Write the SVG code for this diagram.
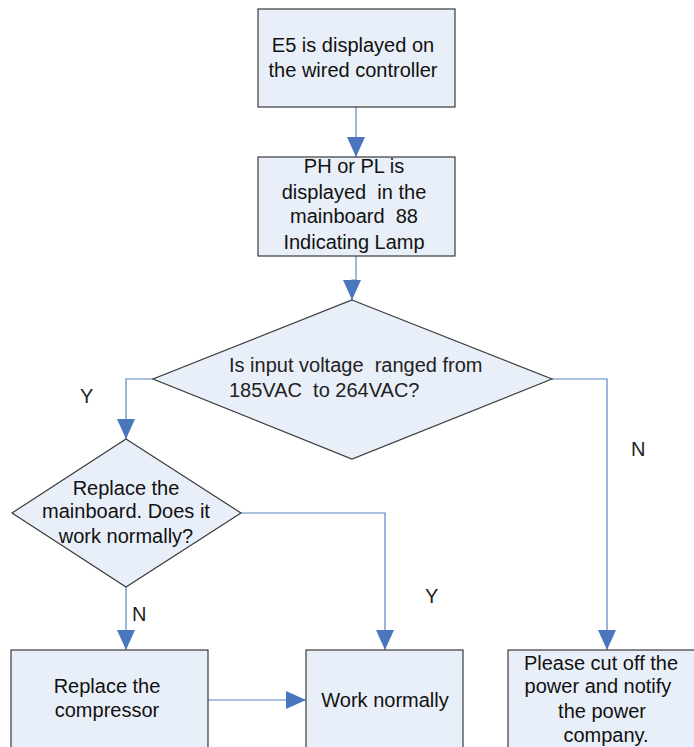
<svg xmlns="http://www.w3.org/2000/svg" width="694" height="747" viewBox="0 0 694 747">
<defs>
<style>
.n{fill:#E9EFF8;stroke:#3a3a3a;stroke-width:1.2}
.t{font-family:"Liberation Sans",Arial,sans-serif;font-size:20px;fill:#111;text-anchor:middle;white-space:pre}
.l{font-family:"Liberation Sans",Arial,sans-serif;font-size:20px;fill:#222;white-space:pre}
.c{fill:none;stroke:#5B86C5;stroke-width:1.2;marker-end:url(#a)}
</style>
<marker id="a" markerUnits="userSpaceOnUse" markerWidth="20" markerHeight="18" refX="20" refY="9" orient="auto">
<path d="M0,0 L20,9 L0,18 z" fill="#4A76BE"/>
</marker>
</defs>
<g id="connectors">
<path class="c" d="M356,107 V157"/>
<path class="c" d="M356,256 V280 H352 V300"/>
<path class="c" d="M153,379 H126 V439"/>
<path class="c" d="M552,379 H607 V650"/>
<path class="c" d="M241,513 H385 V650"/>
<path class="c" d="M126,587 V650"/>
<path class="c" d="M208,700 H306"/>
</g>
<g id="labels">
<text class="l" x="80" y="403">Y</text>
<text class="l" x="631" y="456">N</text>
<text class="l" x="132" y="621">N</text>
<text class="l" x="425" y="603">Y</text>
</g>
<g id="n1">
<rect class="n" x="258" y="9" width="197" height="98"/>
<text class="t" x="353" y="52">E5 is displayed on</text>
<text class="t" x="353" y="77">the wired controller</text>
</g>
<g id="n2">
<rect class="n" x="258" y="157" width="197" height="99"/>
<text class="t" x="354" y="173">PH or PL is</text>
<text class="t" x="354" y="199">displayed  in the</text>
<text class="t" x="354" y="223">mainboard  88</text>
<text class="t" x="354" y="249">Indicating Lamp</text>
</g>
<g id="d1">
<polygon class="n" points="352,300 552,379 352,459 153,379"/>
<text class="l" x="229" y="372">Is input voltage  ranged from</text>
<text class="l" x="229" y="397">185VAC  to 264VAC?</text>
</g>
<g id="d2">
<polygon class="n" points="126,439 241,513 126,587 12,513"/>
<text class="t" x="126" y="495">Replace the</text>
<text class="t" x="126" y="518">mainboard. Does it</text>
<text class="t" x="126" y="543">work normally?</text>
</g>
<g id="n3">
<rect class="n" x="11" y="650" width="197" height="120"/>
<text class="t" x="107" y="693">Replace the</text>
<text class="t" x="107" y="717">compressor</text>
</g>
<g id="n4">
<rect class="n" x="306" y="650" width="157" height="120"/>
<text class="t" x="385" y="707">Work normally</text>
</g>
<g id="n5">
<rect class="n" x="508" y="650" width="197" height="120"/>
<text class="t" x="601" y="670">Please cut off the</text>
<text class="t" x="598" y="693">power and notify</text>
<text class="t" x="602" y="718">the power</text>
<text class="t" x="606" y="742">company.</text>
</g>
</svg>
